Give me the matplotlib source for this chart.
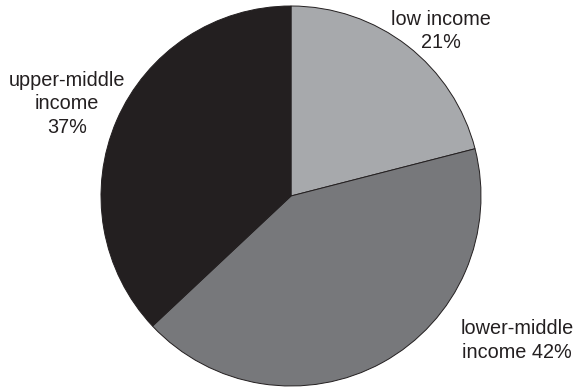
import matplotlib.pyplot as plt

groups = ["low income", "lower-middle income", "upper-middle income"]
shares = [21, 42, 37]
labels = ["low income\n21%", "lower-middle\nincome 42%", "upper-middle\nincome\n37%"]
colors = ["#a7a9ac", "#77787b", "#231f20"]

plt.rcParams["font.family"] = ["Liberation Sans", "DejaVu Sans"]

fig = plt.figure(figsize=(5.76, 3.87), dpi=100)
ax = fig.add_axes([(291 - 190) / 576, (387 - 196 - 190) / 387, 380 / 576, 380 / 387])

wedges, _ = ax.pie(shares, colors=colors, startangle=90, counterclock=False,
                   wedgeprops=dict(edgecolor="#231f20", linewidth=0.7))
ax.set_xlim(-1.0, 1.0)
ax.set_ylim(-1.0, 1.0)

# label placement around the pie
label_pos = [(0.79, 0.87), (1.19, -0.76), (-1.18, 0.485)]
for (x, y), text in zip(label_pos, labels):
    ax.text(x, y, text, ha="center", va="center", fontsize=14.3,
            linespacing=1.28, color="#231f20", clip_on=False)

fig.savefig("out.png", dpi=100)
